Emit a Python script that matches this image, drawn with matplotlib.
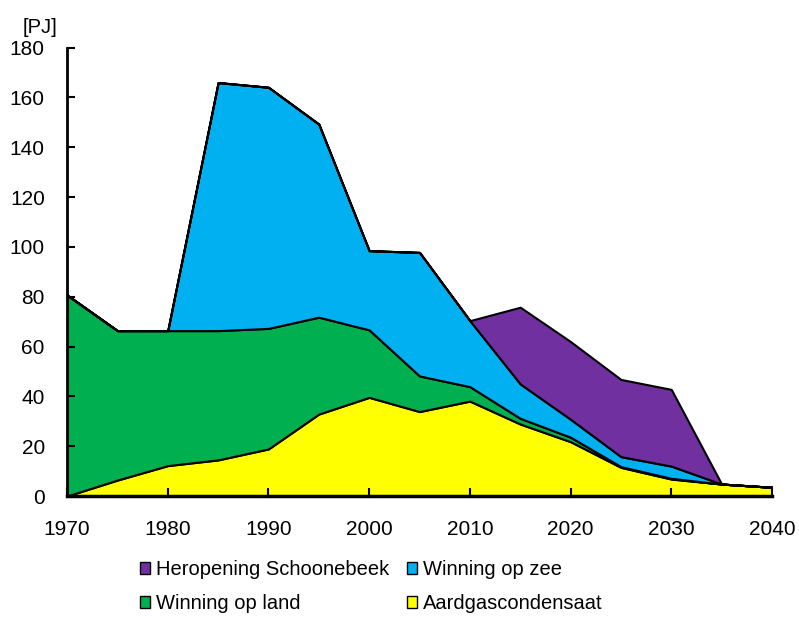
import matplotlib.pyplot as plt
from matplotlib.patches import Patch

plt.rcParams['font.family'] = ['Liberation Sans', 'DejaVu Sans']

jaren = [1970, 1975, 1980, 1985, 1990, 1995, 2000, 2005, 2010,
         2015, 2020, 2025, 2030, 2035, 2040]

# productie per bron [PJ]
aardgascondensaat = [0, 6.4, 12.2, 14.5, 18.9, 32.9, 39.6, 33.9, 38.1,
                     28.9, 21.8, 11.5, 6.8, 4.8, 3.5]
winning_land = [80.7, 60.0, 54.2, 51.9, 48.4, 38.9, 27.1, 14.3, 5.8,
                2.3, 1.8, 0.3, 0.3, 0, 0]
winning_zee = [0, 0, 0, 99.6, 96.8, 77.5, 31.8, 49.6, 26.5,
               13.8, 7.2, 4.0, 4.9, 0, 0]
schoonebeek = [0, 0, 0, 0, 0, 0, 0, 0, 0,
               30.8, 31.2, 31.0, 30.8, 0, 0]

namen = ['Aardgascondensaat', 'Winning op land', 'Winning op zee',
         'Heropening Schoonebeek']
kleuren = ['#FFFF00', '#00B050', '#00B0F0', '#7030A0']

fs = 14.5

fig = plt.figure(figsize=(7.99, 6.19), dpi=100)
ax = fig.add_axes([0.0839, 0.1987, 0.8823, 0.7243])

ax.stackplot(jaren, aardgascondensaat, winning_land, winning_zee, schoonebeek,
             colors=kleuren, edgecolor='black', linewidth=1.5)

ax.set_xlim(1970, 2040)
ax.set_ylim(0, 180)
ax.set_xticks(range(1970, 2041, 10))
ax.set_yticks(range(0, 181, 20))

for s in ['top', 'right']:
    ax.spines[s].set_visible(False)
ax.spines['left'].set_linewidth(2)
ax.spines['bottom'].set_linewidth(2.5)
ax.tick_params(axis='both', direction='in', length=6, width=1.5,
               labelsize=15, colors='black')
ax.tick_params(axis='y', pad=16)
ax.tick_params(axis='x', pad=17)

fig.text(0.028, 0.956, '[PJ]', fontsize=fs, ha='left', va='center')

handles = [Patch(facecolor=kleuren[3], edgecolor='black', label=namen[3]),
           Patch(facecolor=kleuren[1], edgecolor='black', label=namen[1]),
           Patch(facecolor=kleuren[2], edgecolor='black', label=namen[2]),
           Patch(facecolor=kleuren[0], edgecolor='black', label=namen[0])]
fig.legend(handles=handles, ncol=2, loc='upper left',
           bbox_to_anchor=(0.175, 0.095), frameon=False, fontsize=fs,
           handlelength=0.5, handleheight=0.55, handletextpad=0.3,
           columnspacing=0.9, labelspacing=0.75, borderaxespad=0,
           borderpad=0)

fig.savefig('out.png', dpi=100)
